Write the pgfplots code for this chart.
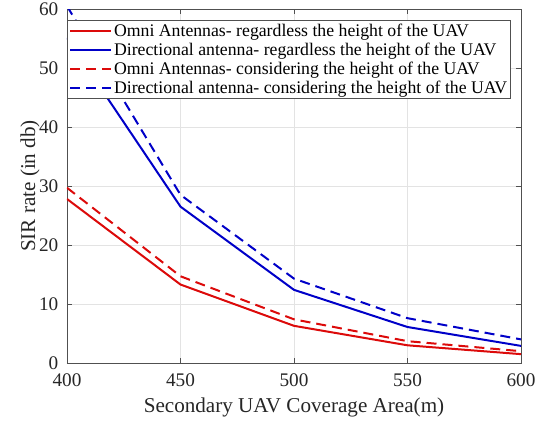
\documentclass[border=0pt]{standalone}
\usepackage{pgfplots}
\pgfplotsset{compat=1.18}
\usepackage{fontspec}
\setmainfont{Liberation Serif}
\definecolor{omnired}{RGB}{220,10,10}
\definecolor{dirblue}{RGB}{0,0,200}
\definecolor{axgray}{RGB}{80,80,80}
\begin{document}
\begin{tikzpicture}[x=1bp,y=1bp]
\begin{axis}[
  scale only axis,
  width=454bp, height=354bp,
  xmin=400, xmax=600, ymin=0, ymax=60,
  xtick={400,450,500,550,600},
  ytick={0,10,20,30,40,50,60},
  grid=major,
  major grid style={draw=gray!22, line width=0.6bp},
  axis line style={draw=axgray, line width=0.8bp},
  tick style={draw=axgray, line width=0.6bp},
  tick align=inside,
  major tick length=5bp,
  /pgf/number format/assume math mode=true,
  tick label style={font=\fontsize{19.3}{22}\selectfont, text=black!85, inner sep=1bp},
  xticklabel style={yshift=-10bp},
  yticklabel style={xshift=-7.5bp},
  label style={font=\fontsize{21.2}{24}\selectfont, text=black!85},
  xlabel={Secondary UAV Coverage Area(m)},
  ylabel={SIR rate (in db)},
  xlabel style={yshift=-6bp},
  ylabel style={yshift=-5bp},
  legend style={at={(rel axis cs:0.978,0.969)}, anchor=north east,
    font=\fontsize{17.8}{20.5}\selectfont, draw=axgray, line width=0.6bp,
    inner sep=1.5bp, row sep=1bp, fill=white,
    /tikz/every even column/.append style={column sep=1bp}},
  legend cell align=left,
  legend image code/.code={\draw[#1] (0bp,0bp) -- (41bp,0bp);},
  every axis plot/.append style={line width=2bp},
]
\addplot[omnired] coordinates {(400,27.8) (450,13.3) (500,6.3) (550,3.0) (600,1.5)};
\addlegendentry{Omni Antennas- regardless the height of the UAV}
\addplot[dirblue] coordinates {(400,55.1) (450,26.5) (500,12.4) (550,6.1) (600,2.9)};
\addlegendentry{Directional antenna- regardless the height of the UAV}
\addplot[omnired, dash pattern=on 10bp off 6bp] coordinates {(400,29.7) (450,14.7) (500,7.4) (550,3.7) (600,2.0)};
\addlegendentry{Omni Antennas- considering the height of the UAV}
\addplot[dirblue, dash pattern=on 10bp off 6bp] coordinates {(400,60.5) (450,28.5) (500,14.3) (550,7.6) (600,4.0)};
\addlegendentry{Directional antenna- considering the height of the UAV}
\end{axis}
\path (current axis.south west) ++(-67bp,-56bp) rectangle ++(541bp,419bp);
\end{tikzpicture}
\end{document}
